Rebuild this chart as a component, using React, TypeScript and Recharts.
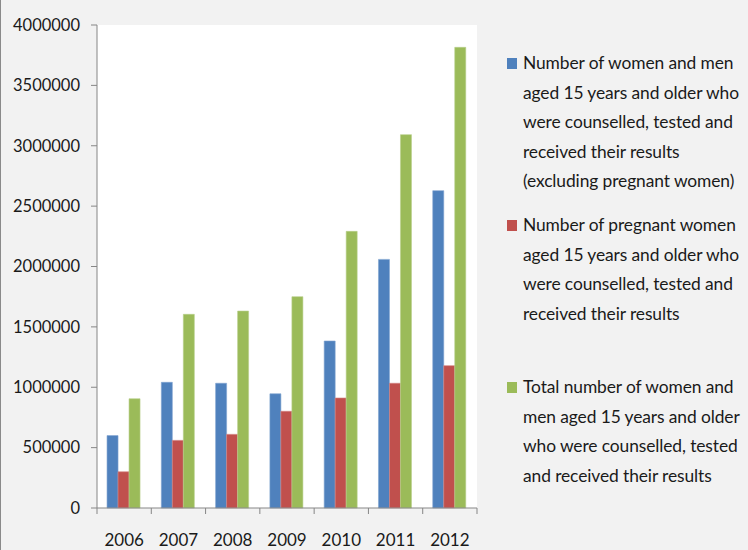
import React from 'react';
import { BarChart, Bar, XAxis, YAxis, CartesianGrid } from 'recharts';

const years = ['2006', '2007', '2008', '2009', '2010', '2011', '2012'];
const excludingPregnant = [600000, 1041000, 1033000, 946000, 1383000, 2059000, 2628000];
const pregnant = [300000, 560000, 610000, 801000, 911000, 1033000, 1179000];
const total = [905000, 1604000, 1631000, 1750000, 2291000, 3092000, 3815000];
const yTicks = [0, 500000, 1000000, 1500000, 2000000, 2500000, 3000000, 3500000, 4000000];

const seriesKeys = ['excl', 'preg', 'total'];
const seriesColors = ['#4F81BD', '#C0504D', '#9BBB59'];
const seriesStrokes = ['#7FA3D0', '#D38583', '#B7CF8A'];
const legendLines = [
  [
    'Number of women and men',
    'aged 15 years and older who',
    'were counselled, tested and',
    'received their results',
    '(excluding pregnant women)',
  ],
  [
    'Number of pregnant women',
    'aged 15 years and older who',
    'were counselled, tested and',
    'received their results',
  ],
  [
    'Total number of women and',
    'men aged 15 years and older',
    'who were counselled, tested',
    'and received their results',
  ],
];

const data = years.map((y, i) => ({
  year: y,
  excl: excludingPregnant[i],
  preg: pregnant[i],
  total: total[i],
}));

const FONT = 'Lato, "Open Sans", sans-serif';
const AXIS = '#868686';

const XTick = (props: any) => {
  const { x, y, payload, index, visibleTicksCount } = props;
  const off = payload && payload.offset ? payload.offset : 0;
  const isLast = index === visibleTicksCount - 1;
  return (
    <g>
      <line x1={x - off} x2={x - off} y1={y - 6} y2={y} stroke={AXIS} strokeWidth={1} />
      {isLast && <line x1={x + off} x2={x + off} y1={y - 6} y2={y} stroke={AXIS} strokeWidth={1} />}
      <text x={x} y={y + 32} textAnchor="middle" fontFamily={FONT} fontSize={17} fill="#1a1a1a">
        {payload.value}
      </text>
    </g>
  );
};

export default function App() {
  return (
    <div
      style={{
        position: 'absolute',
        left: 0,
        top: 0,
        width: 748,
        height: 550,
        background: '#F2F2F2',
        overflow: 'hidden',
        boxSizing: 'border-box',
        borderLeft: '1px solid #8a8a8a',
      }}
    >
      <div style={{ position: 'absolute', left: -1, top: 0 }}>
        <BarChart
          width={748}
          height={550}
          data={data}
          margin={{ top: 25, right: 271, bottom: 0, left: 0 }}
          barCategoryGap="18.5%"
          barGap={0}
        >
          <CartesianGrid fill="#FFFFFF" stroke="none" horizontal={false} vertical={false} />
          <XAxis
            dataKey="year"
            height={42}
            axisLine={{ stroke: AXIS }}
            tickLine={false}
            tickSize={6}
            tickMargin={0}
            interval={0}
            tick={<XTick />}
          />
          <YAxis
            width={97}
            domain={[0, 4000000]}
            ticks={yTicks}
            interval={0}
            axisLine={{ stroke: AXIS }}
            tickLine={{ stroke: AXIS }}
            tickSize={6}
            tickMargin={11}
            tick={{ fontFamily: FONT, fontSize: 16.5, fill: '#1a1a1a' }}
          />
          {seriesKeys.map((k, i) => (
            <Bar
              key={k}
              dataKey={k}
              fill={seriesColors[i]}
              stroke={seriesStrokes[i]}
              strokeWidth={0.6}
              isAnimationActive={false}
            />
          ))}
        </BarChart>
      </div>
      <div style={{ position: 'absolute', left: 506, top: 48, width: 242, fontFamily: FONT }}>
        {legendLines.map((lines, i) => (
          <div key={i} style={{ position: 'relative', height: 162 }}>
            <div
              style={{
                position: 'absolute',
                left: 0,
                top: 10,
                width: 10,
                height: 11,
                background: seriesColors[i],
              }}
            />
            <div
              style={{
                position: 'absolute',
                left: 16,
                top: 0,
                fontSize: 17.4,
                letterSpacing: '-0.1px',
                lineHeight: '29.6px',
                color: '#1a1a1a',
                whiteSpace: 'nowrap',
              }}
            >
              {lines.map((l, j) => (
                <div key={j}>{l}</div>
              ))}
            </div>
          </div>
        ))}
      </div>
    </div>
  );
}
